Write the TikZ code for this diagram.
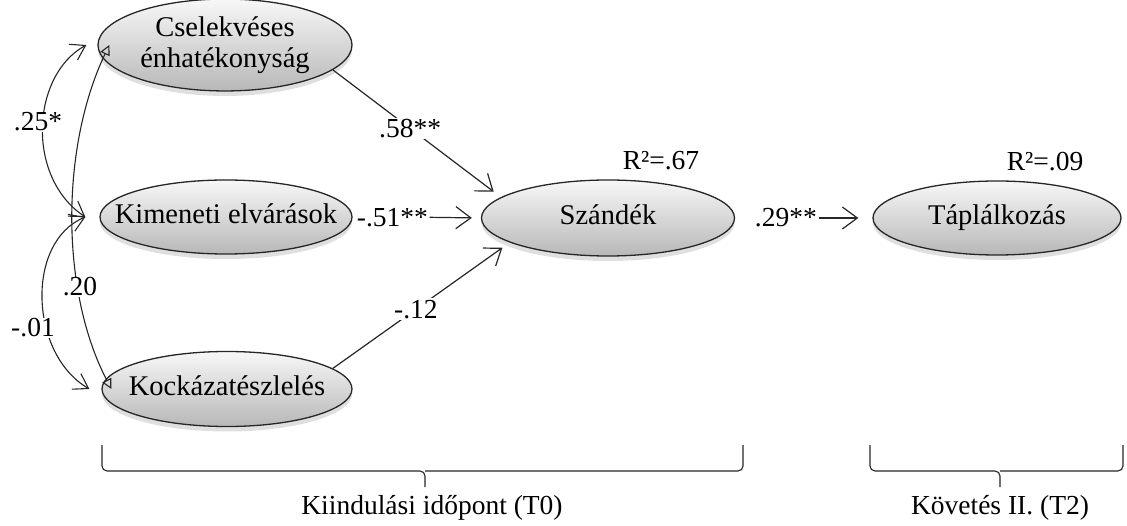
\documentclass[tikz,border=0pt]{standalone}
\usepackage{fontspec}
\setmainfont{Liberation Serif}
\usetikzlibrary{arrows.meta,shapes.geometric,shadows}
% label of fixed size zero, so the ellipse takes only its minimum size
\newcommand{\ellipsetext}[1]{\makebox[0pt][c]{\begin{tabular}{@{}c@{}}#1\end{tabular}}}
\begin{document}
\begin{tikzpicture}[x=1pt,y=1pt,
  every node/.style={font=\fontsize{27.5}{34}\selectfont},
  latent/.style={ellipse, draw=black!85, line width=1.3pt,
    top color=black!3, bottom color=black!28, inner sep=0pt,
    font=\fontsize{28.5}{34}\selectfont,
    drop shadow={shadow xshift=0pt, shadow yshift=-5pt, opacity=0.25}},
  conn/.style={line width=1.2pt, draw=black!85, shorten >=9pt,
    -{Straight Barb[length=15pt,width=22pt,line width=1.2pt]}},
  coef/.style={fill=white, inner sep=1.5pt},
  corr/.style={line width=1.1pt, draw=black!85,
    {Straight Barb[length=14pt,width=18pt,line width=1.1pt]}-{Straight Barb[length=14pt,width=18pt,line width=1.1pt]}},
  corrtri/.style={line width=1.1pt, draw=black!85,
    {Triangle[open,length=10pt,width=10pt,line width=1.1pt]}-{Triangle[open,length=10pt,width=10pt,line width=1.1pt]}},
  bracket/.style={line width=1.1pt, draw=black!85, rounded corners=5pt}
]
\useasboundingbox (0,0) rectangle (1127,525);

% latent variables
\node[latent, minimum width=254pt, minimum height=86pt] (csel) at (225,480) {\ellipsetext{Cselekvéses\\[-3pt]énhatékonyság}};
\node[latent, minimum width=252pt, minimum height=74pt] (kim)  at (226,308) {\ellipsetext{Kimeneti elvárások}};
\node[latent, minimum width=250pt, minimum height=75pt] (kock) at (227,136) {\ellipsetext{Kockázatészlelés}};
\node[latent, minimum width=253pt, minimum height=76pt] (szan) at (608,307) {\ellipsetext{Szándék}};
\node[latent, minimum width=248pt, minimum height=74pt] (tap)  at (997,307) {\ellipsetext{Táplálkozás}};

% explained variance
\node (r1) at (661,364) {R²=.67};
\node (r2) at (1045,363) {R²=.09};

% regression paths
\draw[conn] (csel.-13) -- node[coef, pos=0.46] (b1) {.58**} (szan.169);
\path (kim.east) -- node[coef, pos=0.31] (b2) {-.51**} (szan.west);
\draw[conn] (b2.east) -- (szan.west);
\draw[conn] (kock.11) -- node[coef, pos=0.47] (b3) {-.12} (szan.194);
\path (szan.east) -- node[coef, pos=0.37] (b4) {.29**} (tap.west);
\draw[conn, shorten >=14pt] (b4.east) -- (tap.west);

% correlations between predictors
\coordinate (cA) at ([xshift=-11pt]csel.west);
\coordinate (cB) at ([xshift=-14pt]kim.west);
\coordinate (cC) at ([xshift=-12pt]kock.west);
\coordinate (cD) at ([xshift=12pt]csel.west);
\coordinate (cE) at ([xshift=10pt]kock.west);
\draw[corr] (cB) .. controls +(-60,40) and +(-55,-30) .. (cA);
\draw[corr] (cB) .. controls +(-60,-25) and +(-60,35) .. (cC);
\draw[corrtri] (cD) .. controls +(-48,-100) and +(-52,100) .. (cE);
\node[coef, inner sep=1pt] (k1) at (38,403) {.25*};
\node[coef, inner sep=1pt] (k2) at (33,197) {-.01};
\node[coef, inner sep=1pt] (k3) at (80,238) {.20};

% time brackets
\draw[bracket] (102,80) |- (425,54) -- (425,38);
\draw[bracket] (743,80) |- (425,54);
\draw[bracket] (870,80) |- (1000,54) -- (1000,38);
\draw[bracket] (1123,80) |- (1000,54);
\node (t0) at (432,17) {Kiindulási időpont (T0)};
\node (t2) at (1000,17) {Követés II. (T2)};
\end{tikzpicture}
\end{document}
